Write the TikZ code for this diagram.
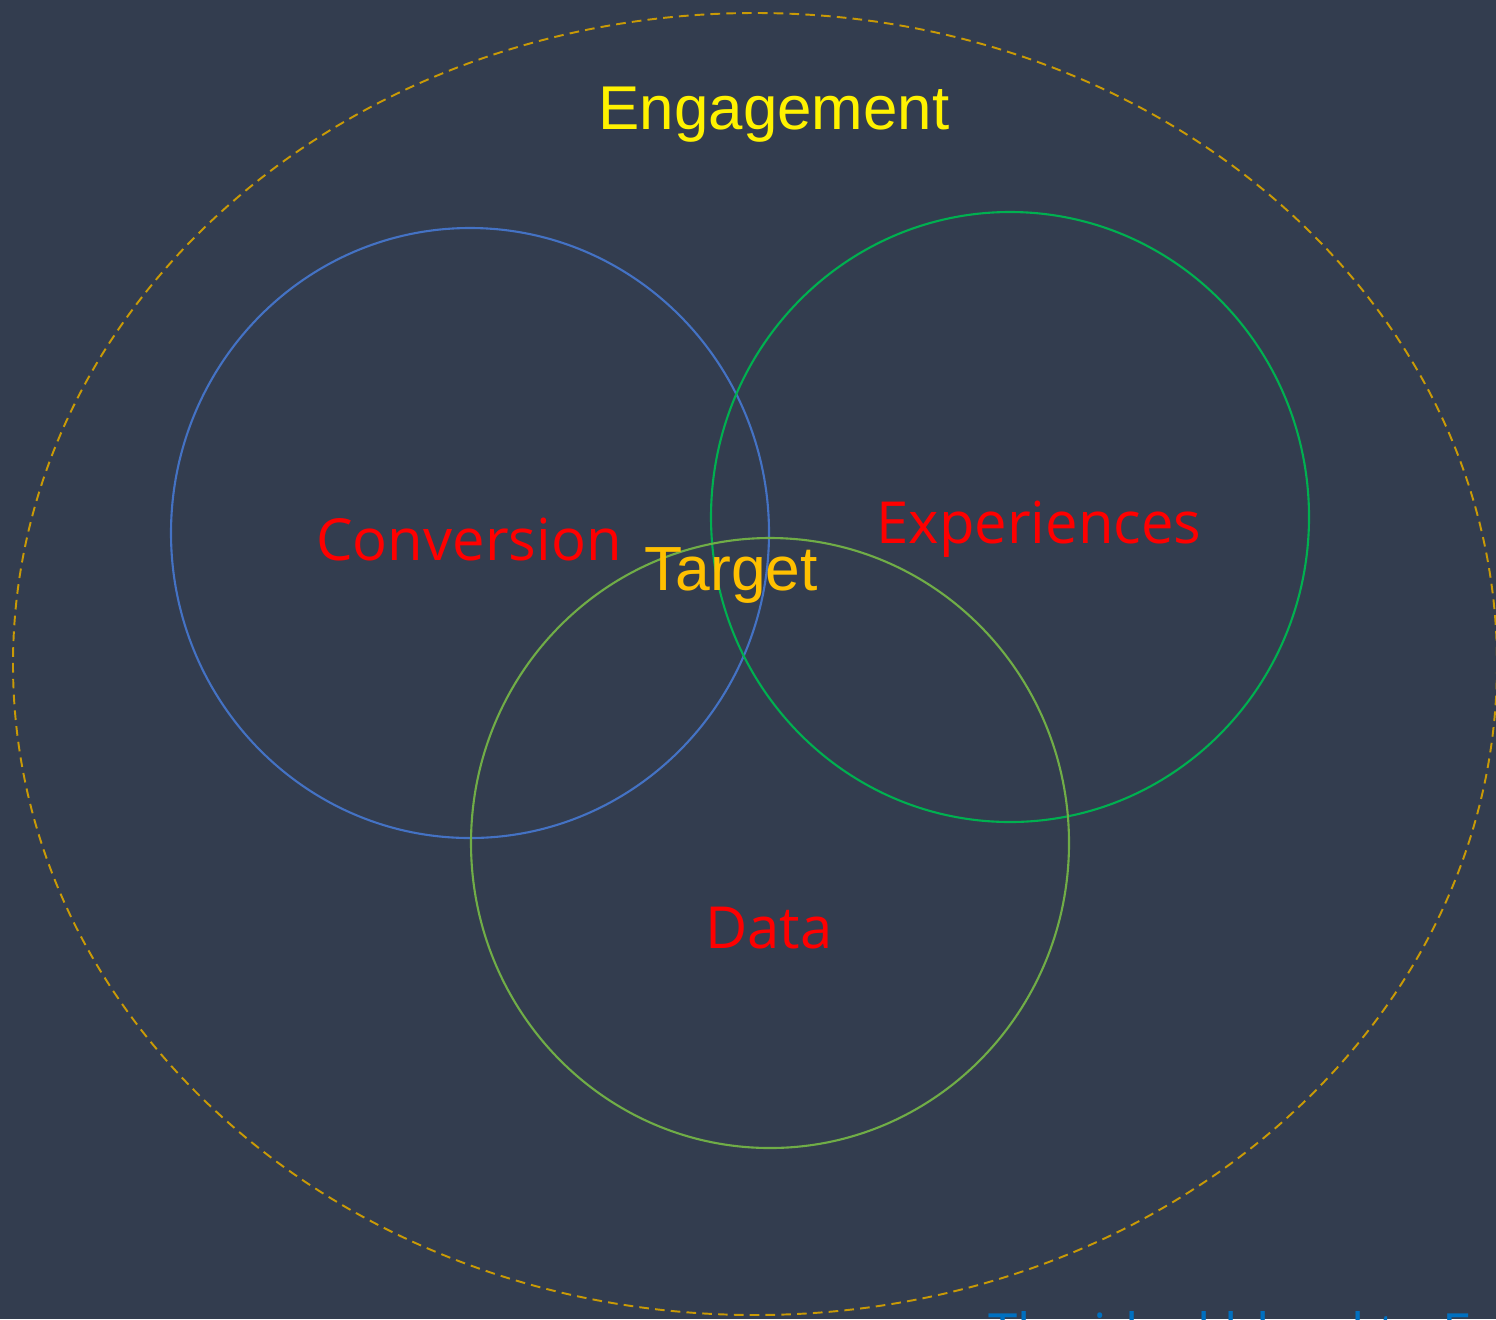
\documentclass[tikz,border=0pt]{standalone}
\usepackage{fontspec}
\setmainfont{Liberation Sans}
\newfontfamily\segoe{Open Sans}
\definecolor{bgc}{HTML}{333D4F}
\definecolor{gold}{HTML}{C99A06}
\definecolor{cblue}{HTML}{4472C4}
\definecolor{cgreen}{HTML}{00B050}
\definecolor{colive}{HTML}{70AD47}
\definecolor{torange}{HTML}{FFC000}
\definecolor{tblue}{HTML}{0070C0}
\tikzset{
  ring/.style={line width=1.2pt},
  redlabel/.style={text=red, font=\segoe\fontsize{33}{37}\selectfont, inner sep=0pt},
}
\begin{document}
\begin{tikzpicture}[x=0.02cm, y=-0.02cm]
\fill[bgc] (0,0) rectangle (1496,1319);
\useasboundingbox (0,0) rectangle (1496,1319);
\begin{scope}
\clip (0,0) rectangle (1496,1319);
\draw[gold, line width=1.1pt, dash pattern=on 5.5pt off 3.5pt] (755,664) ellipse [x radius=742, y radius=651];
\node[inner sep=0pt, anchor=base west, text=tblue, font=\segoe\fontsize{30}{34}\selectfont] (foot) at (988,1351) {The ideal blend to Engage};
\end{scope}
\draw[ring, cblue] (470,533) ellipse [x radius=299, y radius=305];
\draw[ring, cgreen] (1010,517) ellipse [x radius=299, y radius=305];
\draw[ring, colive] (770,843) ellipse [x radius=299, y radius=305];
\node[inner sep=0pt, anchor=base, text=yellow, font=\fontsize{35.2}{40}\selectfont] (eng) at (774,129) {Engagement};
\node[redlabel, anchor=base] (conv) at (469,560) {Conversion};
\node[redlabel, anchor=base] (exp) at (1039,543) {Experiences};
\node[redlabel, anchor=base] (data) at (769,948) {Data};
\node[inner sep=0pt, anchor=base, text=torange, font=\fontsize{35.5}{40}\selectfont] (tgt) at (731,590) {Target};
\end{tikzpicture}
\end{document}
